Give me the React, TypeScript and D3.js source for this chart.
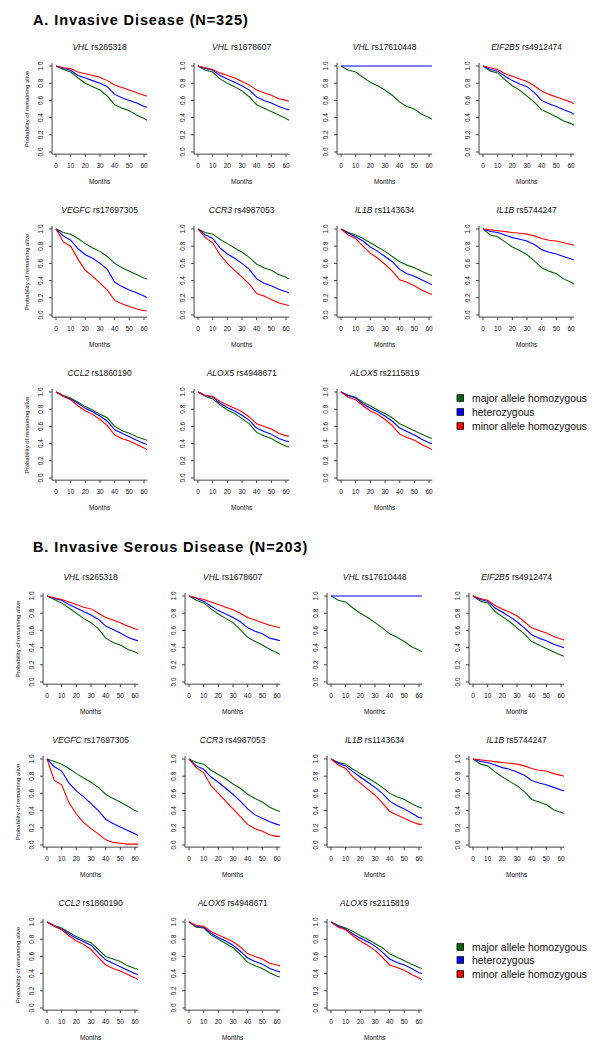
import React from "react";
import * as d3 from "d3";

const MONTHS = [0, 5, 10, 15, 20, 25, 30, 35, 40, 45, 50, 55, 60, 62];
const X_TICKS = [0, 10, 20, 30, 40, 50, 60];
const Y_TICKS = [0, 0.2, 0.4, 0.6, 0.8, 1.0];
const GENES = ["VHL", "VHL", "VHL", "EIF2B5", "VEGFC", "CCR3", "IL1B", "IL1B", "CCL2", "ALOX5", "ALOX5"];
const SNPS = ["rs265318", "rs1678607", "rs17610448", "rs4912474", "rs17697305", "rs4987053", "rs1143634", "rs5744247", "rs1860190", "rs4948671", "rs2115819"];
const GROUPS = ["major allele homozygous", "heterozygous", "minor allele homozygous"];
const COLORS = ["#0b650b", "#0000ff", "#ff0000"];
const SECTION_TITLES = ["A. Invasive Disease (N=325)", "B. Invasive Serous Disease (N=203)"];

// Section A: survival by genotype (major, het, minor), sampled at MONTHS
const A_MAJOR = [
  [1, 0.96, 0.93, 0.86, 0.80, 0.76, 0.72, 0.65, 0.55, 0.51, 0.48, 0.43, 0.39, 0.37],
  [1, 0.95, 0.93, 0.85, 0.80, 0.76, 0.71, 0.64, 0.55, 0.51, 0.47, 0.43, 0.39, 0.37],
  [1, 0.95, 0.93, 0.87, 0.81, 0.77, 0.72, 0.66, 0.58, 0.53, 0.50, 0.44, 0.40, 0.38],
  [1, 0.94, 0.92, 0.84, 0.77, 0.72, 0.65, 0.58, 0.49, 0.45, 0.41, 0.36, 0.33, 0.31],
  [1, 0.96, 0.94, 0.89, 0.83, 0.78, 0.74, 0.68, 0.60, 0.55, 0.51, 0.47, 0.43, 0.42],
  [1, 0.96, 0.94, 0.88, 0.83, 0.78, 0.73, 0.67, 0.59, 0.55, 0.52, 0.47, 0.44, 0.42],
  [1, 0.96, 0.93, 0.89, 0.84, 0.79, 0.74, 0.68, 0.62, 0.58, 0.55, 0.51, 0.47, 0.46],
  [1, 0.93, 0.91, 0.85, 0.79, 0.75, 0.70, 0.63, 0.55, 0.51, 0.48, 0.42, 0.38, 0.36],
  [1, 0.96, 0.93, 0.88, 0.83, 0.79, 0.74, 0.70, 0.60, 0.55, 0.52, 0.48, 0.45, 0.44],
  [1, 0.95, 0.92, 0.85, 0.79, 0.75, 0.69, 0.63, 0.53, 0.49, 0.46, 0.41, 0.37, 0.36],
  [1, 0.96, 0.94, 0.88, 0.84, 0.79, 0.75, 0.70, 0.63, 0.59, 0.55, 0.51, 0.47, 0.46],
];
const A_HET = [
  [1, 0.97, 0.95, 0.89, 0.86, 0.83, 0.80, 0.76, 0.67, 0.63, 0.60, 0.57, 0.53, 0.52],
  [1, 0.97, 0.95, 0.89, 0.85, 0.81, 0.77, 0.72, 0.64, 0.60, 0.57, 0.53, 0.50, 0.49],
  [1, 1, 1, 1, 1, 1, 1, 1, 1, 1, 1, 1, 1, 1],
  [1, 0.96, 0.94, 0.88, 0.83, 0.79, 0.76, 0.69, 0.60, 0.56, 0.53, 0.49, 0.46, 0.44],
  [1, 0.92, 0.87, 0.77, 0.70, 0.66, 0.60, 0.53, 0.38, 0.33, 0.29, 0.26, 0.22, 0.20],
  [1, 0.93, 0.89, 0.78, 0.71, 0.66, 0.60, 0.53, 0.42, 0.37, 0.34, 0.30, 0.27, 0.26],
  [1, 0.95, 0.91, 0.86, 0.79, 0.74, 0.68, 0.62, 0.53, 0.48, 0.45, 0.41, 0.37, 0.35],
  [1, 0.97, 0.96, 0.93, 0.90, 0.88, 0.86, 0.82, 0.76, 0.73, 0.71, 0.68, 0.65, 0.64],
  [1, 0.95, 0.92, 0.87, 0.81, 0.77, 0.72, 0.66, 0.56, 0.52, 0.48, 0.44, 0.40, 0.39],
  [1, 0.96, 0.94, 0.87, 0.82, 0.78, 0.73, 0.67, 0.58, 0.54, 0.51, 0.46, 0.43, 0.42],
  [1, 0.96, 0.93, 0.86, 0.81, 0.77, 0.72, 0.66, 0.58, 0.54, 0.50, 0.45, 0.41, 0.40],
];
const A_MINOR = [
  [1, 0.98, 0.97, 0.93, 0.91, 0.89, 0.87, 0.83, 0.78, 0.75, 0.72, 0.69, 0.66, 0.65],
  [1, 0.98, 0.96, 0.92, 0.89, 0.86, 0.82, 0.78, 0.72, 0.69, 0.66, 0.62, 0.60, 0.59],
  null,
  [1, 0.98, 0.96, 0.91, 0.88, 0.85, 0.82, 0.77, 0.71, 0.67, 0.64, 0.61, 0.58, 0.56],
  [1, 0.85, 0.80, 0.65, 0.52, 0.45, 0.37, 0.29, 0.17, 0.13, 0.10, 0.07, 0.05, 0.05],
  [1, 0.90, 0.84, 0.70, 0.60, 0.52, 0.44, 0.36, 0.25, 0.22, 0.18, 0.14, 0.12, 0.11],
  [1, 0.93, 0.89, 0.80, 0.72, 0.66, 0.59, 0.51, 0.41, 0.38, 0.34, 0.29, 0.25, 0.24],
  [1, 0.99, 0.98, 0.97, 0.96, 0.95, 0.94, 0.92, 0.89, 0.87, 0.86, 0.84, 0.82, 0.81],
  [1, 0.95, 0.91, 0.84, 0.78, 0.74, 0.68, 0.61, 0.50, 0.46, 0.43, 0.39, 0.35, 0.33],
  [1, 0.96, 0.95, 0.89, 0.85, 0.81, 0.77, 0.71, 0.63, 0.60, 0.57, 0.52, 0.49, 0.49],
  [1, 0.94, 0.91, 0.84, 0.78, 0.74, 0.68, 0.61, 0.51, 0.47, 0.44, 0.39, 0.35, 0.33],
];

// Section B
const B_MAJOR = [
  [1, 0.96, 0.92, 0.86, 0.80, 0.74, 0.69, 0.62, 0.51, 0.46, 0.43, 0.38, 0.35, 0.33],
  [1, 0.95, 0.92, 0.85, 0.79, 0.74, 0.69, 0.61, 0.52, 0.47, 0.43, 0.38, 0.34, 0.32],
  [1, 0.95, 0.93, 0.86, 0.80, 0.75, 0.69, 0.63, 0.56, 0.52, 0.47, 0.41, 0.37, 0.35],
  [1, 0.94, 0.92, 0.82, 0.76, 0.70, 0.63, 0.56, 0.47, 0.43, 0.39, 0.35, 0.31, 0.30],
  [1, 0.97, 0.94, 0.89, 0.83, 0.78, 0.73, 0.67, 0.59, 0.54, 0.50, 0.45, 0.40, 0.39],
  [1, 0.96, 0.94, 0.87, 0.82, 0.77, 0.71, 0.66, 0.59, 0.54, 0.50, 0.44, 0.40, 0.39],
  [1, 0.96, 0.94, 0.88, 0.83, 0.78, 0.73, 0.67, 0.60, 0.56, 0.53, 0.48, 0.44, 0.43],
  [1, 0.94, 0.92, 0.85, 0.79, 0.74, 0.69, 0.62, 0.53, 0.50, 0.47, 0.41, 0.38, 0.37],
  [1, 0.96, 0.93, 0.88, 0.83, 0.79, 0.76, 0.68, 0.60, 0.57, 0.54, 0.49, 0.46, 0.45],
  [1, 0.94, 0.93, 0.85, 0.80, 0.75, 0.70, 0.62, 0.53, 0.49, 0.46, 0.41, 0.37, 0.36],
  [1, 0.96, 0.93, 0.89, 0.84, 0.80, 0.75, 0.70, 0.63, 0.59, 0.55, 0.51, 0.47, 0.46],
];
const B_HET = [
  [1, 0.97, 0.95, 0.90, 0.86, 0.82, 0.78, 0.73, 0.65, 0.61, 0.57, 0.52, 0.49, 0.48],
  [1, 0.97, 0.94, 0.88, 0.83, 0.79, 0.75, 0.70, 0.63, 0.59, 0.56, 0.51, 0.49, 0.48],
  [1, 1, 1, 1, 1, 1, 1, 1, 1, 1, 1, 1, 1, 1],
  [1, 0.96, 0.94, 0.86, 0.81, 0.76, 0.70, 0.63, 0.55, 0.51, 0.48, 0.44, 0.41, 0.40],
  [1, 0.91, 0.86, 0.72, 0.63, 0.56, 0.48, 0.40, 0.30, 0.25, 0.21, 0.17, 0.13, 0.11],
  [1, 0.92, 0.88, 0.79, 0.73, 0.66, 0.59, 0.51, 0.42, 0.35, 0.31, 0.27, 0.24, 0.23],
  [1, 0.95, 0.92, 0.85, 0.79, 0.73, 0.67, 0.60, 0.51, 0.46, 0.42, 0.37, 0.32, 0.31],
  [1, 0.97, 0.96, 0.93, 0.90, 0.88, 0.85, 0.81, 0.75, 0.72, 0.70, 0.67, 0.64, 0.63],
  [1, 0.95, 0.92, 0.86, 0.81, 0.77, 0.73, 0.64, 0.56, 0.52, 0.48, 0.44, 0.40, 0.39],
  [1, 0.95, 0.94, 0.87, 0.82, 0.78, 0.73, 0.66, 0.58, 0.54, 0.51, 0.46, 0.43, 0.42],
  [1, 0.95, 0.92, 0.86, 0.81, 0.77, 0.72, 0.65, 0.57, 0.53, 0.50, 0.46, 0.41, 0.40],
];
const B_MINOR = [
  [1, 0.98, 0.96, 0.93, 0.90, 0.87, 0.85, 0.80, 0.75, 0.72, 0.69, 0.65, 0.62, 0.61],
  [1, 0.98, 0.96, 0.93, 0.90, 0.87, 0.84, 0.80, 0.75, 0.72, 0.69, 0.66, 0.64, 0.63],
  null,
  [1, 0.97, 0.95, 0.89, 0.85, 0.81, 0.77, 0.70, 0.63, 0.60, 0.57, 0.53, 0.50, 0.49],
  [1, 0.75, 0.70, 0.49, 0.36, 0.26, 0.19, 0.13, 0.06, 0.03, 0.02, 0.01, 0.01, 0.01],
  [1, 0.90, 0.84, 0.69, 0.60, 0.51, 0.42, 0.33, 0.24, 0.19, 0.16, 0.12, 0.10, 0.10],
  [1, 0.93, 0.89, 0.79, 0.72, 0.65, 0.58, 0.49, 0.39, 0.35, 0.31, 0.27, 0.24, 0.24],
  [1, 0.99, 0.98, 0.97, 0.96, 0.95, 0.94, 0.92, 0.89, 0.87, 0.86, 0.83, 0.81, 0.80],
  [1, 0.95, 0.91, 0.84, 0.78, 0.74, 0.68, 0.59, 0.50, 0.46, 0.43, 0.39, 0.35, 0.33],
  [1, 0.96, 0.95, 0.89, 0.85, 0.81, 0.77, 0.71, 0.63, 0.60, 0.57, 0.52, 0.50, 0.49],
  [1, 0.94, 0.91, 0.84, 0.78, 0.73, 0.67, 0.59, 0.50, 0.47, 0.44, 0.39, 0.35, 0.33],
];

const FONT = "'Liberation Sans', Arial, Helvetica, sans-serif";

const LAYOUT = [
  { titleY: 25, colX0: [56, 198, 341, 483], rowY1: [66, 229, 392], legendY: [398, 412, 426] },
  { titleY: 552, colX0: [47, 189, 331, 473], rowY1: [596, 759, 922], legendY: [947, 960, 974] },
];

const PLOT_W = 88; // width for 60 months
const PLOT_H = 86; // height for 0..1

function Panel({ x0, y1, idx, series, showYLabel }) {
  const x = d3.scaleLinear().domain([0, 60]).range([x0, x0 + PLOT_W]);
  const y = d3.scaleLinear().domain([0, 1]).range([y1 + PLOT_H, y1]);
  const left = x(-2.7);
  const right = x(62.2);
  const top = y(1.035);
  const bottom = y(-0.025);
  const line = d3
    .line<number>()
    .x((_, i) => x(MONTHS[i]))
    .y((d) => y(d))
    .curve(d3.curveLinear);
  const axisColor = "#444";
  const cx = (left + right) / 2;
  return (
    <g>
      <text x={cx} y={y1 - 19} textAnchor="middle" dy="0.35em" fontSize={8.5} fontFamily={FONT} fill="#111">
        <tspan fontStyle="italic">{GENES[idx]}</tspan>
        <tspan> {SNPS[idx]}</tspan>
      </text>
      {series.map((s, k) =>
        s ? <path key={k} d={line(s) || ""} fill="none" stroke={COLORS[k]} strokeWidth={1.1} /> : null
      )}
      <line x1={left} x2={left} y1={top} y2={bottom} stroke={axisColor} strokeWidth={1} />
      <line x1={left} x2={right} y1={bottom} y2={bottom} stroke={axisColor} strokeWidth={1} />
      {X_TICKS.map((t) => (
        <g key={"x" + t}>
          <line x1={x(t)} x2={x(t)} y1={bottom} y2={bottom + 3} stroke={axisColor} />
          <text x={x(t)} y={y1 + 100} textAnchor="middle" dy="0.35em" fontSize={6.5} fontFamily={FONT} fill="#111">
            {t}
          </text>
        </g>
      ))}
      {Y_TICKS.map((t) => (
        <g key={"y" + t}>
          <line x1={left - 3} x2={left} y1={y(t)} y2={y(t)} stroke={axisColor} />
          <text
            transform={`translate(${x0 - 15},${y(t)}) rotate(-90)`}
            textAnchor="middle"
            dy="0.35em"
            fontSize={6.5}
            fontFamily={FONT}
            fill="#111"
          >
            {t.toFixed(1)}
          </text>
        </g>
      ))}
      <text x={cx} y={y1 + 116} textAnchor="middle" dy="0.35em" fontSize={6.5} fontFamily={FONT} fill="#111">
        Months
      </text>
      {showYLabel ? (
        <text
          transform={`translate(${x0 - 29},${y(0.5)}) rotate(-90)`}
          textAnchor="middle"
          dy="0.35em"
          fontSize={6}
          fontFamily={FONT}
          fill="#111"
        >
          Probability of remaining alive
        </text>
      ) : null}
    </g>
  );
}

function Legend({ ys }) {
  return (
    <g>
      {GROUPS.map((g, k) => (
        <g key={g}>
          <rect x={457} y={ys[k] - 3.3} width={6.6} height={6.6} fill={COLORS[k]} stroke="#000" strokeWidth={0.8} />
          <text x={472} y={ys[k]} dy="0.35em" fontSize={10.4} fontFamily={FONT} fill="#111">
            {g}
          </text>
        </g>
      ))}
    </g>
  );
}

export default function App() {
  const sections = [
    { major: A_MAJOR, het: A_HET, minor: A_MINOR },
    { major: B_MAJOR, het: B_HET, minor: B_MINOR },
  ];
  return (
    <svg
      width={600}
      height={1050}
      style={{ position: "absolute", left: 0, top: 0, background: "#fff" }}
    >
      <rect x={0} y={0} width={600} height={1050} fill="#fff" />
      {sections.map((sec, si) => {
        const L = LAYOUT[si];
        return (
          <g key={si}>
            <text x={33} y={L.titleY} fontSize={14.5} fontWeight="bold" fontFamily={FONT} letterSpacing={0.9} fill="#000">
              {SECTION_TITLES[si]}
            </text>
            {GENES.map((_, idx) => {
              const row = Math.floor(idx / 4);
              const col = idx % 4;
              return (
                <Panel
                  key={idx}
                  x0={L.colX0[col]}
                  y1={L.rowY1[row]}
                  idx={idx}
                  series={[sec.major[idx], sec.het[idx], sec.minor[idx]]}
                  showYLabel={col === 0}
                />
              );
            })}
            <Legend ys={L.legendY} />
          </g>
        );
      })}
    </svg>
  );
}
